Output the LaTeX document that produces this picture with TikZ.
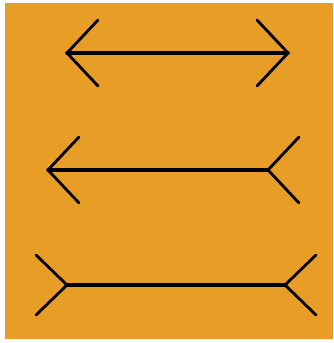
\documentclass[tikz,border=0pt]{standalone}
\usepackage{tikz}
\usetikzlibrary{calc}

\definecolor{cardorange}{RGB}{232,158,38}

\tikzset{
  fin/.style={line width=2.4pt, black, line cap=round},
  shaft/.style={line width=2.8pt, black, line cap=round}
}

\begin{document}
\begin{tikzpicture}[x=0.03cm, y=-0.03cm]
  % Page window (pixel units, y downwards)
  \useasboundingbox (0,0) rectangle (333,343);
  \fill[white] (0,0) rectangle (333,343);
  \fill[cardorange] (5,3) rectangle (333,339);

  % Fin size
  \def\fx{31}\def\fy{33}

  % Top line: fins pointing outwards
  \coordinate (aL) at (67,53);
  \coordinate (aR) at (288,53);
  \coordinate (aLu) at ($(aL)+(\fx,-\fy)$);
  \coordinate (aLd) at ($(aL)+(\fx,\fy)$);
  \coordinate (aRu) at ($(aR)+(-\fx,-\fy)$);
  \coordinate (aRd) at ($(aR)+(-\fx,\fy)$);
  \draw[shaft] (aL) -- (aR);
  \draw[fin] (aLu) -- (aL) -- (aLd);
  \draw[fin] (aRu) -- (aR) -- (aRd);

  % Middle line: arrow head left, tail fins right
  \coordinate (bL) at (48,170);
  \coordinate (bR) at (268,170);
  \coordinate (bLu) at ($(bL)+(\fx,-\fy)$);
  \coordinate (bLd) at ($(bL)+(\fx,\fy)$);
  \coordinate (bRu) at ($(bR)+(\fx,-\fy)$);
  \coordinate (bRd) at ($(bR)+(\fx,\fy)$);
  \draw[shaft] (bL) -- (bR);
  \draw[fin] (bLu) -- (bL) -- (bLd);
  \draw[fin] (bRu) -- (bR) -- (bRd);

  % Bottom line: fins pointing inwards
  \coordinate (cL) at (67,285);
  \coordinate (cR) at (285,285);
  \coordinate (cLu) at ($(cL)+(-\fx,-\fy+3)$);
  \coordinate (cLd) at ($(cL)+(-\fx,\fy-3)$);
  \coordinate (cRu) at ($(cR)+(\fx,-\fy+3)$);
  \coordinate (cRd) at ($(cR)+(\fx,\fy-3)$);
  \draw[shaft] (cL) -- (cR);
  \draw[fin] (cLu) -- (cL) -- (cLd);
  \draw[fin] (cRu) -- (cR) -- (cRd);
\end{tikzpicture}
\end{document}
